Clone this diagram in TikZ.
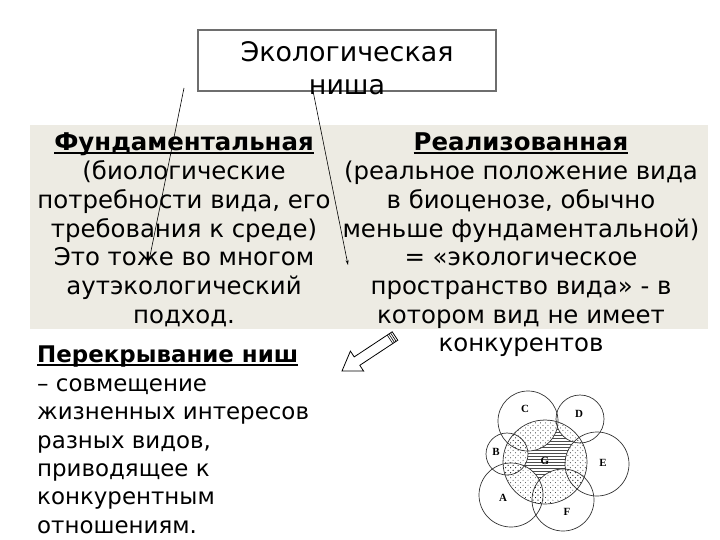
\documentclass[tikz,border=0pt]{standalone}
\usepackage{fontspec}
\setmainfont{DejaVu Sans}
\newfontfamily\lblfont{Liberation Serif}
\usetikzlibrary{patterns,arrows.meta}
\definecolor{panel}{HTML}{EDEBE3}
\definecolor{boxline}{HTML}{6E6E6E}
\pgfdeclarepatternformonly{sparsedots}{\pgfpoint{-1pt}{-1pt}}{\pgfpoint{4pt}{4pt}}{\pgfpoint{5pt}{5pt}}{%
  \pgfpathcircle{\pgfpoint{0pt}{0pt}}{0.45pt}%
  \pgfpathcircle{\pgfpoint{2.5pt}{2.5pt}}{0.45pt}%
  \pgfusepath{fill}}
\newcommand{\thickul}[1]{\setbox0\hbox{#1}\rlap{\rule[-3pt]{\wd0}{1.8pt}}\box0}
\begin{document}
\begin{tikzpicture}[x=1bp,y=-1bp,
  body/.style={font=\fontsize{24.5}{28.8}\selectfont, inner sep=0pt, align=center},
  lowtext/.style={font=\fontsize{23}{28.5}\selectfont, inner sep=0pt, align=left},
  titletext/.style={font=\fontsize{27}{33}\selectfont, inner sep=0pt, align=center},
  pointer/.style={draw=black, line width=0.6pt, -{Stealth[length=5pt,width=3pt]}},
  venn/.style={draw=black!80, line width=0.7pt},
  lbl/.style={font=\lblfont\bfseries\fontsize{11}{11}\selectfont, inner sep=0pt}]
\useasboundingbox (0,0) rectangle (720,540);
% panel
\fill[panel] (30,125) rectangle (708,329);
% title box
\draw[boxline, line width=1.3pt, fill=white] (198,30) rectangle (496,91);
\node[titletext, anchor=north] (title) at (347,41) {Экологическая\\ниша};
% columns
\node[body, anchor=north] (fund) at (184,133) {\thickul{\textbf{Фундаментальная}}\\(биологические\\потребности вида, его\\требования к среде)\\Это тоже во многом\\аутэкологический\\подход.};
\node[body, anchor=north] (real) at (521,133) {\thickul{\textbf{Реализованная}}\\(реальное положение вида\\в биоценозе, обычно\\меньше фундаментальной)\\= «экологическое\\пространство вида» - в\\котором вид не имеет\\конкурентов};
% pointers
\coordinate (a1s) at (184,88); \coordinate (a1e) at (149,261);
\coordinate (a2s) at (313,91); \coordinate (a2e) at (348,265);
\draw[pointer] (a1s) -- (a1e);
\draw[pointer] (a2s) -- (a2e);
% overlap text
\node[lowtext, anchor=north west] (over) at (37,346) {\thickul{\textbf{Перекрывание ниш}}\\– совмещение\\жизненных интересов\\разных видов,\\приводящее к\\конкурентным\\отношениям.};
% hollow arrow
\draw[black, line width=0.8pt, fill=white, line join=miter]
  (392.2,331.8) -- (354.2,356.9) -- (350.4,351.1) -- (342,371) -- (363.6,371.1) -- (359.8,365.3) -- (397.8,340.2) -- cycle;
\foreach \k in {2,4,6}
  \draw[black, line width=0.6pt] ({395-0.834*\k+5*0.551},{336+0.551*\k+5*0.834}) -- ({395-0.834*\k-5*0.551},{336+0.551*\k-5*0.834});
% venn
\begin{scope}
  \clip (545,462) circle (42);
  \fill[pattern=horizontal lines, pattern color=black!70] (545,462) circle (42);
  \foreach \c/\r in {{528,421}/30,{580,419}/24,{597,464}/32,{563,500}/31,{511,495}/32,{507,454}/21}
    \fill[white] (\c) circle (\r);
  \foreach \c/\r in {{528,421}/30,{580,419}/24,{597,464}/32,{563,500}/31,{511,495}/32,{507,454}/21}
    \fill[pattern=sparsedots, pattern color=black] (\c) circle (\r);
\end{scope}
\draw[venn] (545,462) circle (42);
\draw[venn] (528,421) circle (30);
\draw[venn] (580,419) circle (24);
\draw[venn] (597,464) circle (32);
\draw[venn] (563,500) circle (31);
\draw[venn] (511,495) circle (32);
\draw[venn] (507,454) circle (21);
\node[lbl] (lC) at (525,409) {C};
\node[lbl] (lD) at (579,414) {D};
\node[lbl] (lB) at (496,452) {B};
\node[lbl] (lG) at (545,461) {G};
\node[lbl] (lE) at (603,463) {E};
\node[lbl] (lA) at (503,498) {A};
\node[lbl] (lF) at (567,512) {F};
\end{tikzpicture}
\end{document}
